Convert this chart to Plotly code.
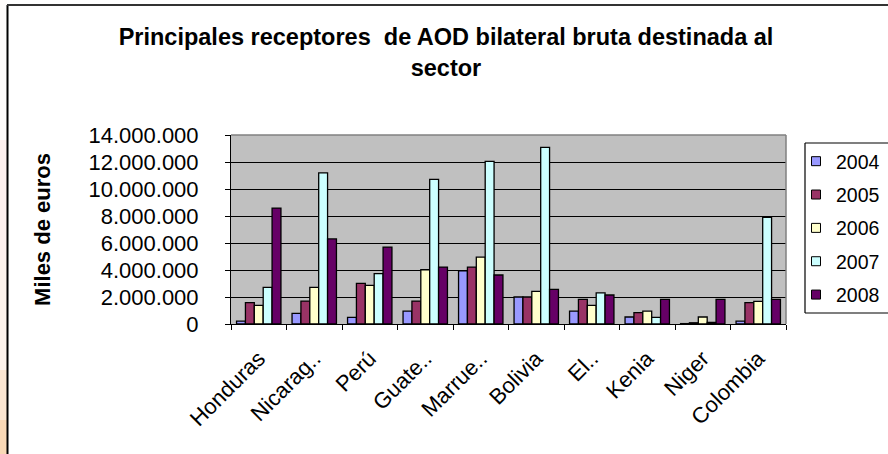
import plotly.graph_objects as go

# ---------------- data ----------------
categories = ["Honduras", "Nicarag..", "Perú", "Guate..", "Marrue..",
              "Bolivia", "El..", "Kenia", "Niger", "Colombia"]
years = ["2004", "2005", "2006", "2007", "2008"]
v2004 = [220000, 790000, 490000, 960000, 3930000, 2000000, 960000, 520000, 30000, 220000]
v2005 = [1580000, 1700000, 3010000, 1700000, 4220000, 2000000, 1830000, 840000, 90000, 1580000]
v2006 = [1380000, 2720000, 2860000, 4020000, 4960000, 2420000, 1380000, 960000, 520000, 1680000]
v2007 = [2720000, 11190000, 3730000, 10720000, 12050000, 13090000, 2300000, 490000, 110000, 7900000]
v2008 = [8590000, 6300000, 5700000, 4220000, 3630000, 2570000, 2150000, 1830000, 1830000, 1830000]
series = [v2004, v2005, v2006, v2007, v2008]
colors = ["#9999FF", "#993366", "#FFFFCC", "#CCFFFF", "#660066"]
y_tick_vals = [0, 2000000, 4000000, 6000000, 8000000, 10000000, 12000000, 14000000]

# ---------------- layout geometry ----------------
W, H = 888, 454
L, R, T, B = 231, 102, 135, 130
PW, PH = W - L - R, H - T - B
FONT = "Liberation Sans, Arial, sans-serif"


def fx(px):
    return (px - L) / PW


def fy(py):
    return (H - B - py) / PH


fig = go.Figure()
for year, vals, col in zip(years, series, colors):
    fig.add_trace(go.Bar(x=categories, y=vals, name=year, showlegend=False,
                         marker=dict(color=col, line=dict(color="black", width=1.3))))
for year, col in zip(years, colors):
    fig.add_trace(go.Scatter(x=[None], y=[None], mode="markers", name=year,
                             legendgroup=year,
                             marker=dict(symbol="square", size=9, color=col,
                                         line=dict(color="black", width=1))))

shapes = []
# left orange strip (cropped background)
bands = [(0, 140, "#fefcfb"), (140, 260, "#fdf0ee"), (260, 370, "#fdf3ec"),
         (370, 420, "#fbe6d2"), (420, 460, "#f9d8b6")]
for y0, y1, c in bands:
    shapes.append(dict(type="rect", xref="paper", yref="paper",
                       x0=fx(0), x1=fx(7), y0=fy(y1), y1=fy(y0),
                       fillcolor=c, line=dict(width=0), layer="below"))
# chart border (left and top)
shapes.append(dict(type="line", xref="paper", yref="paper",
                   x0=fx(7.5), x1=fx(7.5), y0=fy(5), y1=fy(500),
                   line=dict(color="black", width=2)))
shapes.append(dict(type="line", xref="paper", yref="paper",
                   x0=fx(7), x1=fx(1000), y0=fy(5), y1=fy(5),
                   line=dict(color="#333333", width=2)))
# plot area border top/right (gray)
shapes.append(dict(type="line", xref="paper", yref="paper", x0=0, x1=1, y0=1, y1=1,
                   line=dict(color="#808080", width=1.5)))
shapes.append(dict(type="line", xref="paper", yref="paper", x0=1, x1=1, y0=0, y1=1,
                   line=dict(color="#808080", width=1.5)))
# legend frame (open to the right, as in the cropped reference)
for (x0, y0, x1, y1) in [(805, 143, 888, 143), (805, 143, 805, 313), (805, 313, 888, 313)]:
    shapes.append(dict(type="line", xref="paper", yref="paper",
                       x0=fx(x0), y0=fy(y0), x1=fx(x1), y1=fy(y1),
                       line=dict(color="black", width=1.2)))

fig.update_layout(
    width=W, height=H,
    margin=dict(l=L, r=R, t=T, b=B, autoexpand=False),
    paper_bgcolor="white", plot_bgcolor="#C0C0C0",
    separators=",.",
    barmode="group", bargap=0.2, bargroupgap=0,
    font=dict(family=FONT, color="black"),
    title=dict(text="Principales receptores  de AOD bilateral bruta destinada al<br>sector",
               x=446 / W, xanchor="center", xref="container",
               y=1 - 45 / H, yanchor="top", yref="container",
               font=dict(family=FONT, size=23.5, color="black", weight="bold")),
    xaxis=dict(type="category", showline=True, linecolor="black", linewidth=1,
               ticks="outside", tickson="boundaries", ticklen=5, tickcolor="black",
               tickangle=-45, ticklabelstandoff=12,
               tickfont=dict(family=FONT, size=22, color="black"),
               showgrid=False, zeroline=False),
    yaxis=dict(range=[0, 14000000], tickvals=y_tick_vals, tickformat=",.0f",
               showgrid=True, gridcolor="black", gridwidth=1,
               showline=True, linecolor="black", linewidth=1,
               ticks="outside", ticklen=5, tickcolor="black",
               ticklabelstandoff=22,
               tickfont=dict(family=FONT, size=22, color="black"),
               zeroline=False,
               title=dict(text="Miles de euros", standoff=31,
                          font=dict(family=FONT, size=22, color="black", weight="bold"))),
    legend=dict(x=fx(796), xanchor="left", y=fy(142), yanchor="top",
                bgcolor="rgba(0,0,0,0)", bordercolor="rgba(0,0,0,0)", borderwidth=0,
                font=dict(family=FONT, size=19.5, color="black"),
                traceorder="grouped", tracegroupgap=5),
    shapes=shapes,
)

fig.write_html("out.html", config={"displayModeBar": False},
               post_script="document.body.style.margin='0';document.body.style.overflow='hidden';")
